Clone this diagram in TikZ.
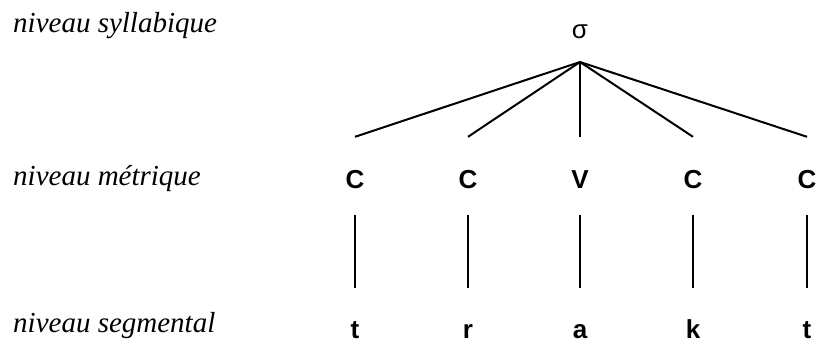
\documentclass[tikz,border=0pt]{standalone}
\usepackage{fontspec}
\setmainfont{Liberation Serif}
\setsansfont{Liberation Sans}
\usetikzlibrary{positioning}

\begin{document}
\begin{tikzpicture}[
    x=1pt, y=-1pt,
    level/.style={anchor=base west, inner sep=0pt, font=\fontsize{29}{29}\selectfont\itshape},
    seg/.style={anchor=base, inner sep=0pt, text height=18pt, text depth=0pt, font=\fontsize{26}{26}\selectfont\sffamily\bfseries},
    syl/.style={anchor=base, inner sep=0pt, font=\fontsize{26}{26}\selectfont\sffamily},
    branch/.style={line width=2pt},
]
\useasboundingbox (0,0) rectangle (821,342);

% Level labels
\node[level] (lab_syl) at (13, 33) {niveau syllabique};
\node[level] (lab_met) at (13, 185) {niveau m\'etrique};
\node[level] (lab_seg) at (13, 332) {niveau segmental};

% Syllable node
\node[syl] (sigma) at (580, 39) {σ};
\coordinate (apex) at ([yshift=-23pt]sigma.base);

% Skeleton and segments
\foreach \i/\x/\cv/\ph in {1/355/C/t, 2/468/C/r, 3/580/V/a, 4/693/C/k, 5/807/C/t} {
    \node[seg] (cv_\i) at (\x, 188) {\cv};
    \node[seg] (ph_\i) at (\x, 338) {\ph};
    \coordinate (end_\i) at ([yshift=33pt]cv_\i.north);
    \draw[branch] (apex) -- (end_\i);
    \draw[branch, shorten <=27pt, shorten >=32pt] (cv_\i.south) -- (ph_\i.north);
}

\end{tikzpicture}
\end{document}
